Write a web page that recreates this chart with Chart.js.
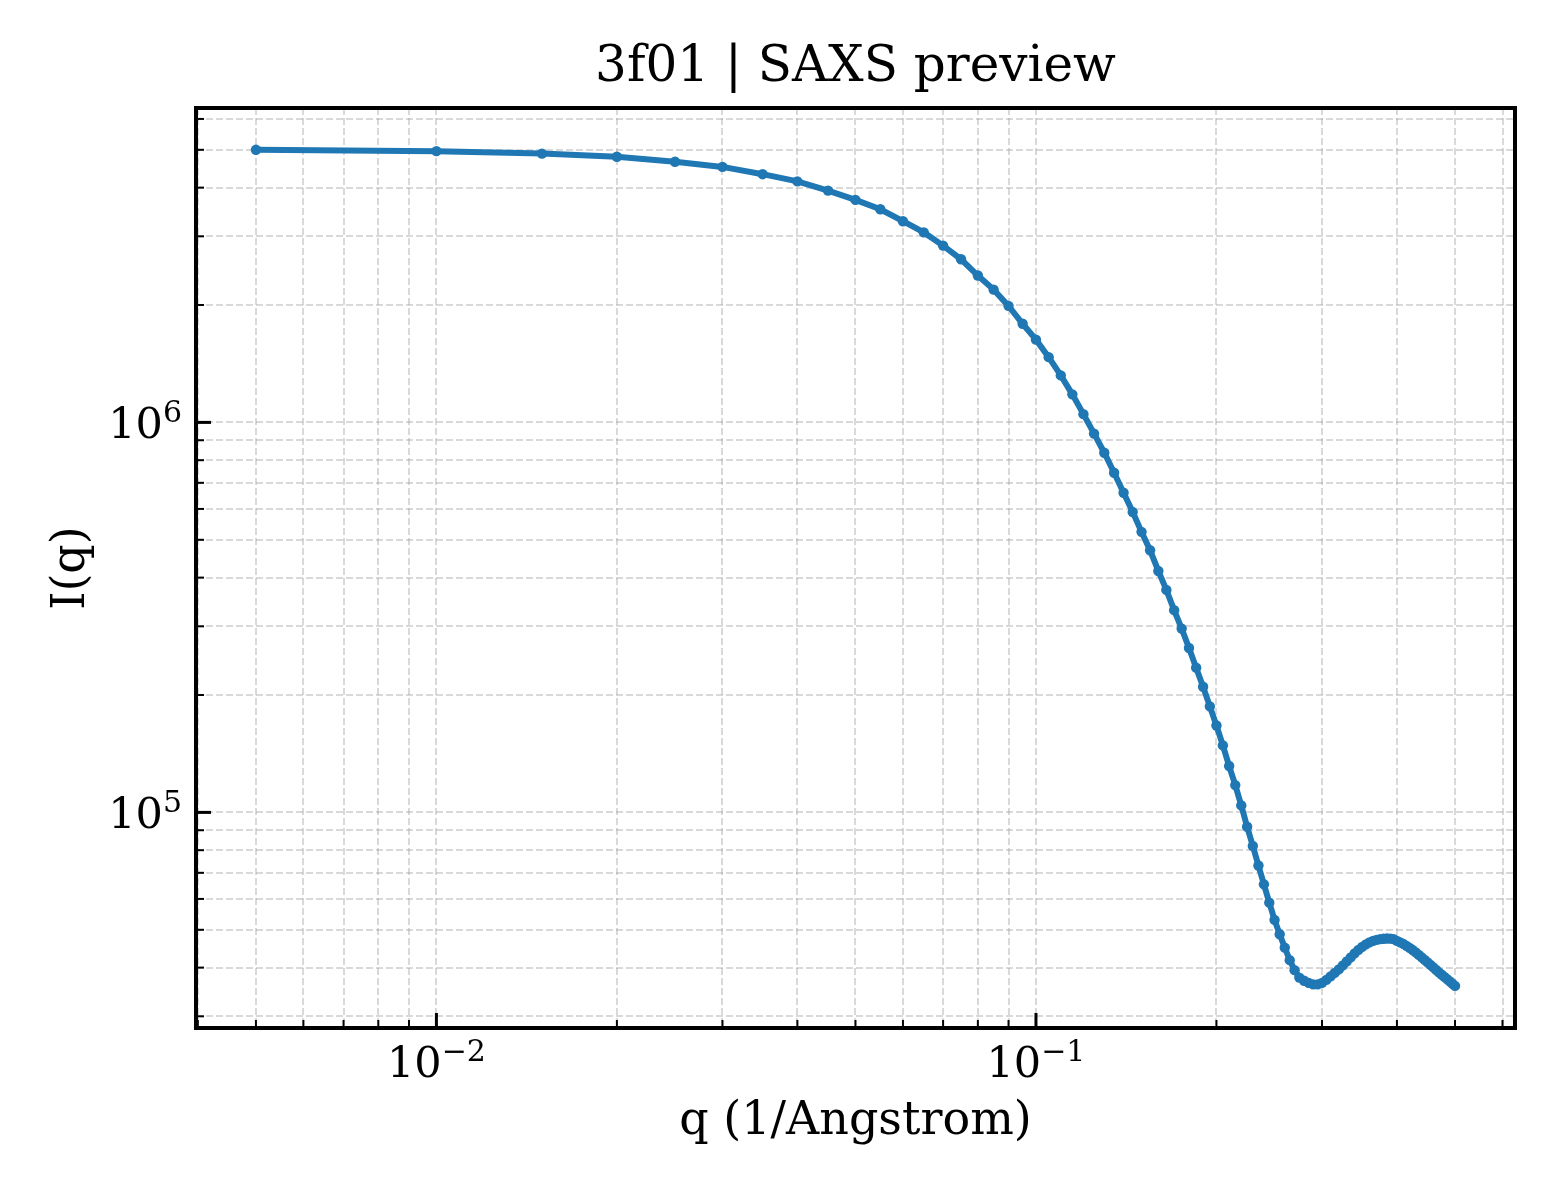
<!DOCTYPE html>
<html>
<head>
<meta charset="utf-8">
<script src="https://cdn.jsdelivr.net/npm/chart.js@4.4.1/dist/chart.umd.min.js"></script>
<style>
  html, body { margin: 0; padding: 0; background: #fff; }
  #saxs { display: block; }
</style>
</head>
<body>
<canvas id="saxs" width="1560" height="1200"></canvas>
<script>
// q (1/Angstrom)
const qValues = [
  0.005, 0.010, 0.015, 0.020, 0.025, 0.030, 0.035, 0.040, 0.045, 0.050,
  0.055, 0.060, 0.065, 0.070, 0.075, 0.080, 0.085, 0.090, 0.095, 0.100,
  0.105, 0.110, 0.115, 0.120, 0.125, 0.130, 0.135, 0.140, 0.145, 0.150,
  0.155, 0.160, 0.165, 0.170, 0.175, 0.180, 0.185, 0.190, 0.195, 0.200,
  0.205, 0.210, 0.215, 0.220, 0.225, 0.230, 0.235, 0.240, 0.245, 0.250,
  0.255, 0.260, 0.265, 0.270, 0.275, 0.280, 0.285, 0.290, 0.295, 0.300,
  0.305, 0.310, 0.315, 0.320, 0.325, 0.330, 0.335, 0.340, 0.345, 0.350,
  0.355, 0.360, 0.365, 0.370, 0.375, 0.380, 0.385, 0.390, 0.395, 0.400,
  0.405, 0.410, 0.415, 0.420, 0.425, 0.430, 0.435, 0.440, 0.445, 0.450,
  0.455, 0.460, 0.465, 0.470, 0.475, 0.480, 0.485, 0.490, 0.495, 0.500
];

// I(q)
const intensity = [
  5.00e6, 4.96e6, 4.89e6, 4.80e6, 4.66e6, 4.52e6, 4.33e6, 4.15e6, 3.93e6, 3.72e6,
  3.52e6, 3.28e6, 3.07e6, 2.84e6, 2.62e6, 2.38e6, 2.19e6, 1.99e6, 1.79e6, 1.63e6,
  1.47e6, 1.32e6, 1.18e6, 1.05e6, 9.36e5, 8.36e5, 7.43e5, 6.60e5, 5.89e5, 5.24e5,
  4.70e5, 4.16e5, 3.72e5, 3.30e5, 2.96e5, 2.64e5, 2.35e5, 2.10e5, 1.87e5, 1.67e5,
  1.485e5, 1.315e5, 1.175e5, 1.042e5, 9.19e4, 8.20e4, 7.31e4, 6.54e4, 5.87e4, 5.30e4,
  4.87e4, 4.50e4, 4.18e4, 3.94e4, 3.77e4, 3.70e4, 3.654e4, 3.622e4, 3.622e4, 3.654e4,
  3.720e4, 3.797e4, 3.877e4, 3.958e4, 4.053e4, 4.150e4, 4.249e4, 4.351e4, 4.441e4, 4.521e4,
  4.588e4, 4.642e4, 4.683e4, 4.711e4, 4.731e4, 4.742e4, 4.748e4, 4.745e4, 4.731e4, 4.683e4,
  4.642e4, 4.601e4, 4.547e4, 4.494e4, 4.436e4, 4.375e4, 4.311e4, 4.249e4, 4.186e4, 4.124e4,
  4.064e4, 4.004e4, 3.946e4, 3.888e4, 3.837e4, 3.786e4, 3.737e4, 3.687e4, 3.639e4, 3.590e4
];

// tick positions (minor + major)
const xTickValues = [0.004, 0.005, 0.006, 0.007, 0.008, 0.009,
  0.01, 0.02, 0.03, 0.04, 0.05, 0.06, 0.07, 0.08, 0.09,
  0.1, 0.2, 0.3, 0.4, 0.5, 0.6];
const yTickValues = [3e4, 4e4, 5e4, 6e4, 7e4, 8e4, 9e4,
  1e5, 2e5, 3e5, 4e5, 5e5, 6e5, 7e5, 8e5, 9e5,
  1e6, 2e6, 3e6, 4e6, 5e6, 6e6];

const SERIF = "'DejaVu Serif', 'Liberation Serif', serif";

function isDecade(v) {
  const e = Math.log10(v);
  return Math.abs(e - Math.round(e)) < 1e-9;
}

function exponentText(v) {
  return String(Math.round(Math.log10(v))).replace('-', '\u2212');
}

// "10" + raised exponent, like matplotlib mathtext
function drawPower(ctx, v, x, baseline, align) {
  const exp = exponentText(v);
  ctx.font = '43px ' + SERIF;
  const wBase = ctx.measureText('10').width;
  ctx.font = '30px ' + SERIF;
  const wExp = ctx.measureText(exp).width;
  const total = wBase + wExp;
  const left = align === 'right' ? x - total : x - total / 2;
  ctx.textAlign = 'left';
  ctx.textBaseline = 'alphabetic';
  ctx.font = '43px ' + SERIF;
  ctx.fillText('10', left, baseline);
  ctx.font = '30px ' + SERIF;
  ctx.fillText(exp, left + wBase, baseline - 16);
}

// matplotlib-like frame, inward ticks on left and bottom, decade labels
const frameTicks = {
  id: 'frameTicks',
  afterDraw(chart) {
    const ctx = chart.ctx;
    const a = chart.chartArea;
    const xs = chart.scales.x;
    const ys = chart.scales.y;
    ctx.save();
    ctx.strokeStyle = '#000';
    ctx.fillStyle = '#000';
    xs.ticks.forEach(t => {
      const px = xs.getPixelForValue(t.value);
      const major = isDecade(t.value);
      ctx.lineWidth = major ? 3 : 2;
      ctx.beginPath();
      ctx.moveTo(px, a.bottom);
      ctx.lineTo(px, a.bottom - (major ? 15 : 8));
      ctx.stroke();
      if (major) drawPower(ctx, t.value, px, a.bottom + 49, 'center');
    });
    ys.ticks.forEach(t => {
      const py = ys.getPixelForValue(t.value);
      const major = isDecade(t.value);
      ctx.lineWidth = major ? 3 : 2;
      ctx.beginPath();
      ctx.moveTo(a.left, py);
      ctx.lineTo(a.left + (major ? 15 : 8), py);
      ctx.stroke();
      if (major) drawPower(ctx, t.value, a.left - 14, py + 15.7, 'right');
    });
    ctx.lineWidth = 4;
    ctx.strokeRect(a.left, a.top, a.right - a.left, a.bottom - a.top);
    ctx.restore();
  }
};

const points = qValues.map((q, i) => ({x: q, y: intensity[i]}));

const ctx = document.getElementById('saxs').getContext('2d');
const saxsChart = new Chart(ctx, {
  type: 'line',
  data: {
    datasets: [{
      data: points,
      borderColor: '#1f77b4',
      backgroundColor: '#1f77b4',
      borderWidth: 6,
      pointRadius: 5.2,
      pointBorderWidth: 0,
      pointBackgroundColor: '#1f77b4',
      tension: 0,
      fill: false
    }]
  },
  options: {
    responsive: false,
    animation: false,
    devicePixelRatio: 1,
    layout: { padding: { left: 0, right: 45, top: 0, bottom: 0 } },
    plugins: {
      legend: { display: false },
      tooltip: { enabled: false },
      title: {
        display: true,
        fullSize: false,
        text: '3f01 | SAXS preview',
        color: '#000',
        font: { family: SERIF, size: 50, weight: 'normal', lineHeight: 1.2 },
        padding: { top: 38, bottom: 10 }
      }
    },
    scales: {
      x: {
        type: 'logarithmic',
        min: 0.003972,
        max: 0.6295,
        afterBuildTicks: s => { s.ticks = xTickValues.map(v => ({value: v})); },
        afterFit: s => { s.height = 172; },
        ticks: { display: false },
        grid: { color: 'rgba(160,160,160,0.4)', lineWidth: 2, drawTicks: false },
        border: { display: false, dash: [7, 3] },
        title: {
          display: true,
          text: 'q (1/Angstrom)',
          color: '#000',
          font: { family: SERIF, size: 46 },
          padding: { top: 0, bottom: 50 }
        }
      },
      y: {
        type: 'logarithmic',
        min: 28000,
        max: 6.4e6,
        afterBuildTicks: s => { s.ticks = yTickValues.map(v => ({value: v})); },
        afterFit: s => { s.width = 196; },
        ticks: { display: false },
        grid: { color: 'rgba(160,160,160,0.4)', lineWidth: 2, drawTicks: false },
        border: { display: false, dash: [7, 3] },
        title: {
          display: true,
          text: 'I(q)',
          color: '#000',
          font: { family: SERIF, size: 46 },
          padding: { top: 44, bottom: 0 }
        }
      }
    }
  },
  plugins: [frameTicks]
});
</script>
</body>
</html>
